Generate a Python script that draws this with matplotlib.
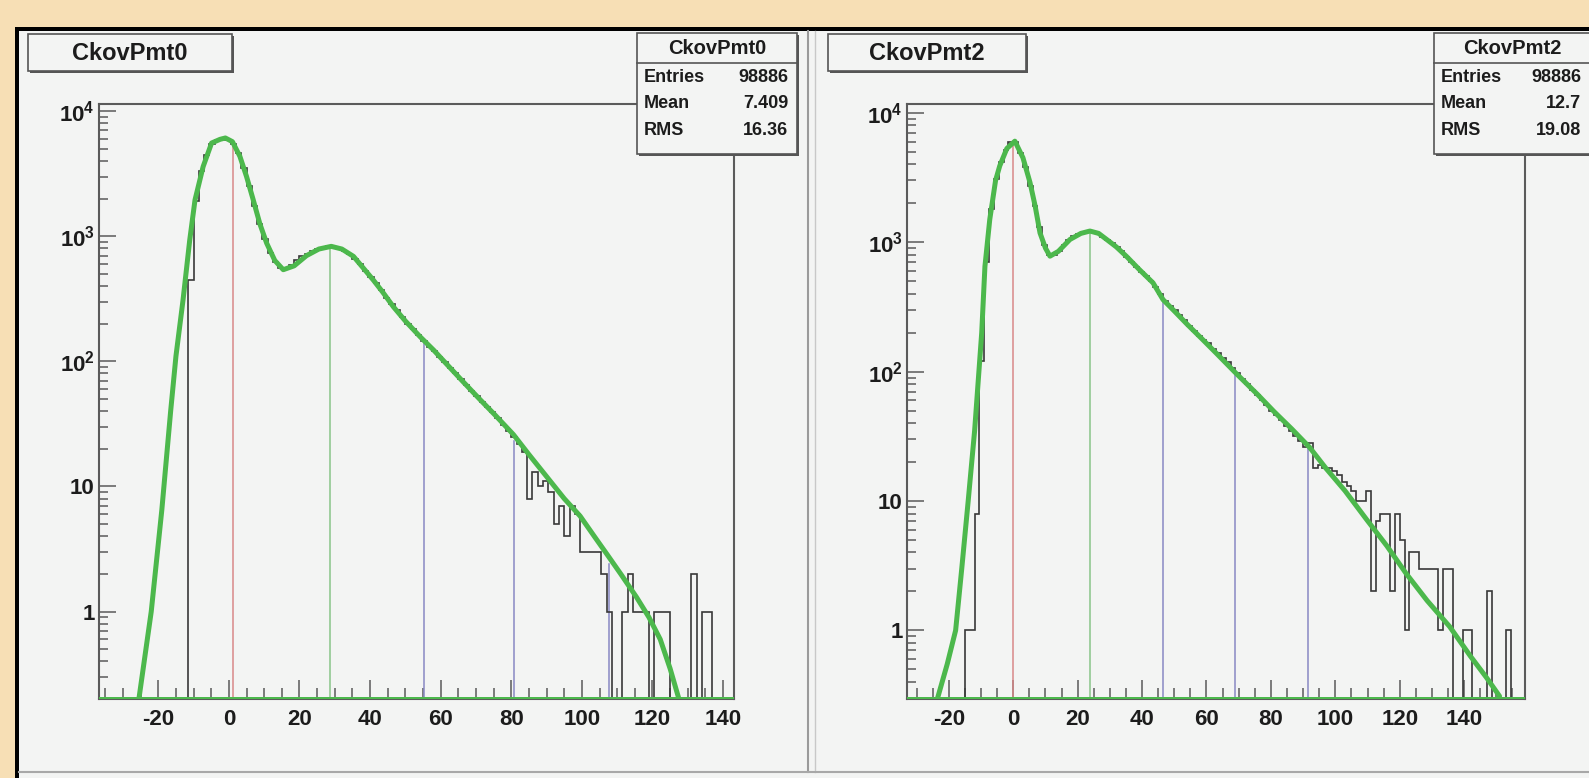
import matplotlib
matplotlib.use('Agg')
import matplotlib.pyplot as plt
import numpy as np
from matplotlib.patches import Rectangle
from matplotlib.lines import Line2D
from matplotlib.ticker import MultipleLocator, LogLocator, FuncFormatter, NullFormatter

plt.rcParams['font.family'] = ['Liberation Sans', 'DejaVu Sans']
plt.rcParams['font.weight'] = 'bold'
plt.rcParams['axes.unicode_minus'] = False

W, H = 1589, 778

# ---- values ----
titles = ['CkovPmt0', 'CkovPmt2']
entries = ['98886', '98886']
means = ['7.409', '12.7']
rmss = ['16.36', '19.08']

bin_w = 1.5

# CkovPmt0 histogram, first bin starts at -11.5
pmt0_start = -11.5
pmt0_counts = [450, 1900, 3300, 4500, 5500, 5900, 6050, 5900, 5500, 4600,
               3500, 2500, 1750, 1250, 950, 740, 620, 560, 555, 590,
               640, 690, 720, 760, 790, 810, 830, 820, 800, 760,
               720, 660, 600, 530, 470, 420, 370, 320, 285, 255,
               225, 200, 180, 162, 145, 131, 120, 108, 98, 88,
               80, 72, 65, 58, 53, 47, 43, 39, 35, 31,
               28, 25, 22, 19, 8, 13, 10, 11, 9, 5,
               7, 4, 7, 6, 3, 3, 3, 3, 2, 1,
               0, 0, 1, 2, 1, 1, 1, 0, 1, 1,
               1, 0, 0, 0, 0, 2, 0, 1, 1, 0,
               0, 0, 0]

# CkovPmt2 histogram, first bin starts at -15
pmt2_start = -15.0
pmt2_counts = [1, 1, 8, 120, 700, 1800, 3100, 4200, 5200, 5900,
               5900, 4900, 3800, 2700, 1900, 1300, 950, 800, 790, 850,
               950, 1040, 1110, 1160, 1200, 1220, 1200, 1170, 1100, 1040,
               980, 920, 850, 775, 700, 640, 590, 545, 500, 450,
               400, 350, 320, 300, 275, 250, 225, 205, 190, 175,
               165, 150, 140, 128, 118, 106, 97, 88, 80, 72,
               66, 60, 55, 50, 46, 42, 38, 35, 32, 29,
               26, 28, 18, 19, 18, 18, 17, 16, 14, 13,
               12, 10, 10, 12, 2, 7, 8, 8, 2, 8,
               5, 1, 4, 4, 3, 3, 3, 3, 1, 3,
               3, 0, 0, 1, 1, 0, 0, 0, 2, 0,
               0, 0, 1, 0, 0, 0]

# fit curves (green)
pmt0_fit_x = [-25.5, -22, -19, -16.5, -15, -13, -11.1, -9.6, -7.3, -4.9,
              -2.5, -1, 1, 3.1, 5, 6.9, 8.8, 10.7, 13, 15.4,
              18.5, 22, 25.5, 29, 32, 35.3, 38, 40.9, 43.5, 46.6,
              50, 54.2, 58, 62, 66.5, 71, 75.5, 80.6, 85, 90,
              95, 99.5, 103.5, 107, 111, 115.5, 119, 122.2, 125, 127.5]
pmt0_fit_y = [0.2, 1.0, 6.5, 40, 110, 308, 930, 1950, 3600, 5560,
              5950, 6100, 5700, 4360, 3000, 1950, 1250, 880, 640, 540,
              580, 700, 790, 830, 790, 690, 560, 447, 360, 273,
              210, 157, 123, 93, 68, 50, 37, 26, 18, 12,
              8.0, 5.8, 4.0, 2.9, 2.0, 1.3, 0.9, 0.6, 0.35, 0.2]

pmt2_fit_x = [-23.5, -20.5, -17.9, -16, -14, -12, -9.8, -8.8, -7.3, -5.5,
              -4.2, -2, 0.5, 3, 5.2, 6.8, 8.3, 10, 11.4, 14,
              17.6, 21, 23.8, 26.5, 29, 32, 35.2, 39, 43.4, 46.5,
              50, 54, 58.5, 63, 69, 76, 81, 86.5, 92, 97,
              103, 109.7, 116, 122, 128.5, 135.5, 142, 147, 151]
pmt2_fit_y = [0.3, 0.55, 1, 3, 10, 35, 200, 650, 1500, 3000,
              3890, 5300, 6040, 4500, 2890, 1900, 1180, 900, 780, 850,
              1050, 1170, 1220, 1170, 1050, 920, 775, 620, 485, 360,
              294, 232, 180, 139, 98, 66, 49, 36, 26, 18,
              12, 7.2, 4.5, 2.75, 1.7, 1.07, 0.63, 0.43, 0.31]

# photoelectron peak markers
pmt0_peak_x = [1.2, 28.6, 55.2, 80.9, 107.6]
pmt0_peak_y = [5700, 830, 150, 23, 2.4]
pmt2_peak_x = [0.0, 23.8, 46.5, 68.8, 91.6]
pmt2_peak_y = [6000, 1220, 360, 98, 28]

xlims = [(-36.8, 143.1), (-33.0, 158.9)]
ylims = [(0.2, 11400), (0.295, 11700)]

# ---- styles ----
bg = '#f7dfb5'
pad_col = '#f3f4f3'
hist_col = '#383838'
fit_col = '#4cb84c'
frame_col = '#5a5a5a'
txt_col = '#1c1c1c'
peak_cols = ['#d88888', '#88c488', '#8888c4', '#8888c4', '#8888c4']

fig = plt.figure(figsize=(W / 100, H / 100), dpi=100)
fig.patch.set_facecolor(bg)


def rect_px(x0, y0, x1, y1, **kw):
    r = Rectangle((x0 / W, 1 - y1 / H), (x1 - x0) / W, (y1 - y0) / H,
                  transform=fig.transFigure, **kw)
    fig.patches.append(r)
    return r


def line_px(xs, ys, **kw):
    fig.lines.append(Line2D([x / W for x in xs], [1 - y / H for y in ys],
                            transform=fig.transFigure, **kw))


def text_px(x, y, s, **kw):
    fig.text(x / W, 1 - y / H, s, color=txt_col, **kw)


# canvas with black border
rect_px(15, 27, W + 10, H + 10, facecolor='black', edgecolor='none', zorder=-10)
rect_px(19, 31, W + 10, H + 10, facecolor=pad_col, edgecolor='none', zorder=-9)
# pad borders
line_px([808, 808], [31, 772], color='#9a9a9a', lw=1.5, zorder=-8)
line_px([815, 815], [31, 772], color='#c8c8c8', lw=1.0, zorder=-8)
line_px([19, W], [772, 772], color='#a8a8a8', lw=1.5, zorder=-8)


def yfmt(v, pos):
    k = int(round(np.log10(v)))
    if k == 0:
        return '1'
    if k == 1:
        return '10'
    return r'$\mathregular{10^{%d}}$' % k


def draw_panel(rect, start, counts, fit_x, fit_y, peak_x, peak_y, xlim, ylim):
    x0, y0, x1, y1 = rect
    ax = fig.add_axes([x0 / W, 1 - y1 / H, (x1 - x0) / W, (y1 - y0) / H])
    ax.set_facecolor(pad_col)
    ax.set_yscale('log')
    counts = np.asarray(counts, dtype=float)
    edges = start + bin_w * np.arange(len(counts) + 1)

    for x, y, c in zip(peak_x, peak_y, peak_cols):
        ax.plot([x, x], [ylim[0], y], color=c, lw=1.1, zorder=2)
    ax.stairs(np.where(counts > 0, counts, 1e-3), edges, baseline=1e-3,
              color=hist_col, lw=1.2, zorder=3)
    ax.plot(fit_x, fit_y, color=fit_col, lw=3.6, zorder=4,
            solid_capstyle='round', solid_joinstyle='round')
    ax.axhline(ylim[0], color=fit_col, lw=3.6, zorder=4)

    ax.set_xlim(xlim)
    ax.set_ylim(ylim)

    ax.xaxis.set_major_locator(MultipleLocator(20))
    ax.xaxis.set_minor_locator(MultipleLocator(5))
    ax.yaxis.set_major_locator(LogLocator(base=10, numticks=10))
    ax.yaxis.set_minor_locator(LogLocator(base=10, subs=np.arange(2, 10), numticks=30))
    ax.yaxis.set_major_formatter(FuncFormatter(yfmt))
    ax.yaxis.set_minor_formatter(NullFormatter())

    ax.tick_params(which='both', direction='in', top=False, right=False,
                   color=frame_col, width=1.1, labelcolor=txt_col, labelsize=16)
    ax.tick_params(axis='x', which='major', length=13.5, pad=7)
    ax.tick_params(axis='x', which='minor', length=8)
    ax.tick_params(axis='y', which='major', length=12, pad=3)
    ax.tick_params(axis='y', which='minor', length=6.5)

    for s in ax.spines.values():
        s.set_color(frame_col)
        s.set_linewidth(1.5)
    return ax


draw_panel((99, 104, 734, 699), pmt0_start, pmt0_counts, pmt0_fit_x, pmt0_fit_y,
           pmt0_peak_x, pmt0_peak_y, xlims[0], ylims[0])
draw_panel((907, 104, 1525, 699), pmt2_start, pmt2_counts, pmt2_fit_x, pmt2_fit_y,
           pmt2_peak_x, pmt2_peak_y, xlims[1], ylims[1])


def title_box(x0, x1, label):
    rect_px(x0 + 2, 36, x1 + 2, 73, facecolor='#555555', edgecolor='none', zorder=5)
    rect_px(x0, 34, x1, 71, facecolor=pad_col, edgecolor='#555555', lw=1.2, zorder=6)
    text_px((x0 + x1) / 2, 53, label, ha='center', va='center', fontsize=17, zorder=7)


def stats_box(x0, x1, i):
    rect_px(x0 + 2, 35, x1 + 2, 156, facecolor='#555555', edgecolor='none', zorder=5)
    rect_px(x0, 33, x1, 154, facecolor=pad_col, edgecolor='#555555', lw=1.2, zorder=6)
    line_px([x0, x1], [63, 63], color='#555555', lw=1.2, zorder=7)
    text_px((x0 + x1) / 2, 49, titles[i], ha='center', va='center', fontsize=14.5, zorder=8)
    rows = [('Entries', entries[i]), ('Mean', means[i]), ('RMS', rmss[i])]
    for k, (name, val) in enumerate(rows):
        y = 77 + 26.7 * k
        text_px(x0 + 7, y, name, ha='left', va='center', fontsize=13, zorder=8)
        text_px(x1 - 9, y, val, ha='right', va='center', fontsize=13, zorder=8)


title_box(28, 232, titles[0])
title_box(828, 1026, titles[1])
stats_box(637, 797, 0)
stats_box(1434, 1590, 1)

fig.savefig('out.png', dpi=100, facecolor=fig.get_facecolor())
